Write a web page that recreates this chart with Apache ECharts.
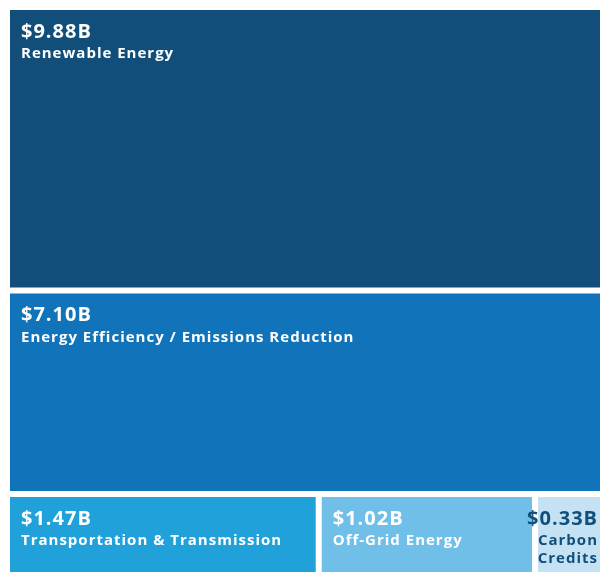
<!DOCTYPE html>
<html><head><meta charset="utf-8">
<script src="https://cdn.jsdelivr.net/npm/echarts@6/dist/echarts.min.js"></script>
<style>html,body{margin:0;padding:0;background:#fff}#chart{width:600px;height:573px}</style>
</head><body><div id="chart"></div>
<script>
// Climate finance by category, in billions of US dollars
const categories = ['Renewable Energy', 'Energy Efficiency / Emissions Reduction', 'Transportation & Transmission', 'Off-Grid Energy', 'Carbon Credits'];
const values = [9.88, 7.10, 1.47, 1.02, 0.33];
// which horizontal band each category sits in (top to bottom)
const rowOf = [0, 1, 2, 2, 2];
const fills = ['#114f7a', '#1174ba', '#21a1da', '#6fbfe8', '#c4e2f4'];
const textColors = ['#ffffff', '#ffffff', '#ffffff', '#ffffff', '#114f7a'];

// Labels are tracked out by 1px; canvas text supports this through letterSpacing
(function () {
  const proto = CanvasRenderingContext2D.prototype;
  const fill = proto.fillText, measure = proto.measureText;
  proto.fillText = function () { this.letterSpacing = '1px'; return fill.apply(this, arguments); };
  proto.measureText = function () { this.letterSpacing = '1px'; return measure.apply(this, arguments); };
})();

// Slice layout in data units: bands stacked along y (sum of values), items split along x (0..1)
const total = values.reduce((a, b) => a + b, 0);
const rowSums = [];
values.forEach((v, i) => { rowSums[rowOf[i]] = (rowSums[rowOf[i]] || 0) + v; });
const cells = [];
let yAcc = 0;
rowSums.forEach((s, r) => {
  let xAcc = 0;
  values.forEach((v, i) => {
    if (rowOf[i] !== r) return;
    cells.push([xAcc / s, (xAcc + v) / s, yAcc, yAcc + s, i]);
    xAcc += v;
  });
  yAcc += s;
});

const GAP = 6;
const FONT = '"Open Sans", "Noto Sans", sans-serif';

function renderItem(params, api) {
  const i = api.value(4);
  const p0 = api.coord([api.value(0), api.value(2)]);
  const p1 = api.coord([api.value(1), api.value(3)]);
  const x = p0[0], y = p0[1];
  const w = p1[0] - p0[0] - GAP, h = p1[1] - p0[1] - GAP;
  const narrow = w < 100;
  const label = '$' + values[i].toFixed(2) + 'B';
  const name = narrow ? categories[i].split(' ').join('\n') : categories[i];
  const tx = narrow ? x + w - 4 : x + 11;
  const align = narrow ? 'right' : 'left';
  return {
    type: 'group',
    children: [
      { type: 'rect', shape: { x: x, y: y, width: w, height: h }, style: { fill: fills[i] } },
      { type: 'text', z2: 10, style: { text: label, x: tx, y: y + 12, fill: textColors[i],
          fontFamily: FONT, fontWeight: 'bold', fontSize: 20, lineHeight: 20, align: align, verticalAlign: 'top' } },
      { type: 'text', z2: 10, style: { text: name, x: tx, y: y + 35, fill: textColors[i],
          fontFamily: FONT, fontWeight: 'bold', fontSize: 15, lineHeight: 18, align: align, verticalAlign: 'top' } }
    ]
  };
}

const chart = echarts.init(document.getElementById('chart'), null, { renderer: 'canvas' });
chart.setOption({
  animation: false,
  grid: { left: 10, top: 10, width: 598, height: 568, outerBoundsMode: 'none', containLabel: false },
  xAxis: { type: 'value', min: 0, max: 1, show: false },
  yAxis: { type: 'value', min: 0, max: total, inverse: true, show: false },
  series: [{
    type: 'custom',
    clip: false,
    renderItem: renderItem,
    data: cells
  }]
});
</script>
</body></html>
